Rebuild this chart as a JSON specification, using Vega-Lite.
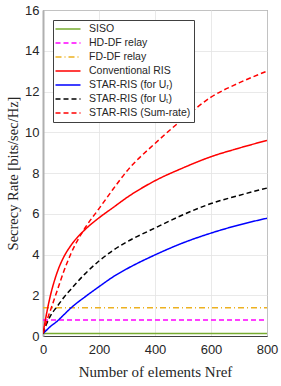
{
  "$schema": "https://vega.github.io/schema/vega-lite/v6.json",
  "width": 224,
  "height": 326,
  "autosize": {"type": "none"},
  "padding": {"left": 43, "top": 10, "right": 14, "bottom": 50},
  "background": "white",
  "config": {
    "view": {"stroke": "#404040", "strokeWidth": 1},
    "axis": {
      "labelFont": "Liberation Sans",
      "labelFontSize": 13,
      "labelColor": "#262626",
      "titleFont": "Liberation Serif",
      "titleFontWeight": "normal",
      "titleColor": "#262626",
      "gridColor": "#e3e3e3",
      "gridWidth": 0.8,
      "ticks": false
    },
    "legend": {
      "labelFont": "Liberation Sans",
      "labelFontSize": 10.5,
      "labelColor": "#262626"
    }
  },
  "data": {
    "values": [
      {"N": 0, "rate": 0.12, "series": "SISO"},
      {"N": 800, "rate": 0.12, "series": "SISO"},
      {"N": 0, "rate": 0.79, "series": "HD-DF relay"},
      {"N": 800, "rate": 0.79, "series": "HD-DF relay"},
      {"N": 0, "rate": 1.39, "series": "FD-DF relay"},
      {"N": 800, "rate": 1.39, "series": "FD-DF relay"},

      {"N": 0, "rate": 0.12, "series": "Conventional RIS"},
      {"N": 10, "rate": 0.9, "series": "Conventional RIS"},
      {"N": 25, "rate": 1.9, "series": "Conventional RIS"},
      {"N": 50, "rate": 3.1, "series": "Conventional RIS"},
      {"N": 75, "rate": 3.9, "series": "Conventional RIS"},
      {"N": 100, "rate": 4.45, "series": "Conventional RIS"},
      {"N": 150, "rate": 5.22, "series": "Conventional RIS"},
      {"N": 200, "rate": 5.8, "series": "Conventional RIS"},
      {"N": 250, "rate": 6.3, "series": "Conventional RIS"},
      {"N": 300, "rate": 6.8, "series": "Conventional RIS"},
      {"N": 400, "rate": 7.62, "series": "Conventional RIS"},
      {"N": 500, "rate": 8.25, "series": "Conventional RIS"},
      {"N": 600, "rate": 8.8, "series": "Conventional RIS"},
      {"N": 700, "rate": 9.22, "series": "Conventional RIS"},
      {"N": 800, "rate": 9.6, "series": "Conventional RIS"},

      {"N": 0, "rate": 0.12, "series": "STAR-RIS (for Uᵣ)"},
      {"N": 10, "rate": 0.25, "series": "STAR-RIS (for Uᵣ)"},
      {"N": 25, "rate": 0.45, "series": "STAR-RIS (for Uᵣ)"},
      {"N": 50, "rate": 0.72, "series": "STAR-RIS (for Uᵣ)"},
      {"N": 75, "rate": 1.05, "series": "STAR-RIS (for Uᵣ)"},
      {"N": 100, "rate": 1.38, "series": "STAR-RIS (for Uᵣ)"},
      {"N": 150, "rate": 1.92, "series": "STAR-RIS (for Uᵣ)"},
      {"N": 200, "rate": 2.42, "series": "STAR-RIS (for Uᵣ)"},
      {"N": 250, "rate": 2.9, "series": "STAR-RIS (for Uᵣ)"},
      {"N": 300, "rate": 3.3, "series": "STAR-RIS (for Uᵣ)"},
      {"N": 400, "rate": 3.98, "series": "STAR-RIS (for Uᵣ)"},
      {"N": 500, "rate": 4.57, "series": "STAR-RIS (for Uᵣ)"},
      {"N": 600, "rate": 5.05, "series": "STAR-RIS (for Uᵣ)"},
      {"N": 700, "rate": 5.45, "series": "STAR-RIS (for Uᵣ)"},
      {"N": 800, "rate": 5.78, "series": "STAR-RIS (for Uᵣ)"},

      {"N": 0, "rate": 0.12, "series": "STAR-RIS (for Uₜ)"},
      {"N": 10, "rate": 0.5, "series": "STAR-RIS (for Uₜ)"},
      {"N": 25, "rate": 0.95, "series": "STAR-RIS (for Uₜ)"},
      {"N": 50, "rate": 1.44, "series": "STAR-RIS (for Uₜ)"},
      {"N": 75, "rate": 1.9, "series": "STAR-RIS (for Uₜ)"},
      {"N": 100, "rate": 2.3, "series": "STAR-RIS (for Uₜ)"},
      {"N": 150, "rate": 3.05, "series": "STAR-RIS (for Uₜ)"},
      {"N": 200, "rate": 3.68, "series": "STAR-RIS (for Uₜ)"},
      {"N": 250, "rate": 4.2, "series": "STAR-RIS (for Uₜ)"},
      {"N": 300, "rate": 4.62, "series": "STAR-RIS (for Uₜ)"},
      {"N": 400, "rate": 5.3, "series": "STAR-RIS (for Uₜ)"},
      {"N": 500, "rate": 5.95, "series": "STAR-RIS (for Uₜ)"},
      {"N": 600, "rate": 6.5, "series": "STAR-RIS (for Uₜ)"},
      {"N": 700, "rate": 6.9, "series": "STAR-RIS (for Uₜ)"},
      {"N": 800, "rate": 7.26, "series": "STAR-RIS (for Uₜ)"},

      {"N": 0, "rate": 0.12, "series": "STAR-RIS (Sum-rate)"},
      {"N": 10, "rate": 0.6, "series": "STAR-RIS (Sum-rate)"},
      {"N": 25, "rate": 1.2, "series": "STAR-RIS (Sum-rate)"},
      {"N": 50, "rate": 2.2, "series": "STAR-RIS (Sum-rate)"},
      {"N": 75, "rate": 3.2, "series": "STAR-RIS (Sum-rate)"},
      {"N": 100, "rate": 4.05, "series": "STAR-RIS (Sum-rate)"},
      {"N": 150, "rate": 5.3, "series": "STAR-RIS (Sum-rate)"},
      {"N": 200, "rate": 6.25, "series": "STAR-RIS (Sum-rate)"},
      {"N": 250, "rate": 7.2, "series": "STAR-RIS (Sum-rate)"},
      {"N": 300, "rate": 8.1, "series": "STAR-RIS (Sum-rate)"},
      {"N": 400, "rate": 9.45, "series": "STAR-RIS (Sum-rate)"},
      {"N": 500, "rate": 10.65, "series": "STAR-RIS (Sum-rate)"},
      {"N": 600, "rate": 11.72, "series": "STAR-RIS (Sum-rate)"},
      {"N": 700, "rate": 12.42, "series": "STAR-RIS (Sum-rate)"},
      {"N": 800, "rate": 13.0, "series": "STAR-RIS (Sum-rate)"}
    ]
  },
  "mark": {"type": "line", "strokeWidth": 1.5, "interpolate": "monotone", "clip": true},
  "encoding": {
    "x": {
      "field": "N", "type": "quantitative",
      "scale": {"domain": [0, 800], "nice": false},
      "axis": {"values": [0, 200, 400, 600, 800], "title": "Number of elements Nref", "titleFontSize": 15, "labelPadding": 7, "titlePadding": 8, "domainColor": "#404040", "labelFlush": false}
    },
    "y": {
      "field": "rate", "type": "quantitative",
      "scale": {"domain": [0, 16], "nice": false},
      "axis": {"values": [0, 2, 4, 6, 8, 10, 12, 14, 16], "title": "Secrecy Rate [bits/sec/Hz]", "titleFontSize": 14.5, "labelPadding": 4, "titlePadding": 4, "domainColor": "#b0b0b0", "domainWidth": 2}
    },
    "color": {
      "field": "series", "type": "nominal",
      "scale": {
        "domain": ["SISO", "HD-DF relay", "FD-DF relay", "Conventional RIS", "STAR-RIS (for Uᵣ)", "STAR-RIS (for Uₜ)", "STAR-RIS (Sum-rate)"],
        "range": ["#77AC30", "#FF00FF", "#EDB120", "#FF0000", "#0000FF", "#000000", "#FF0000"]
      },
      "legend": {
        "title": null, "orient": "none", "legendX": 10, "legendY": 10,
        "symbolType": "M-2.5,0H2.5", "symbolSize": 100, "symbolStrokeWidth": 1.5, "symbolOffset": 6,
        "fillColor": "white", "strokeColor": "#404040", "padding": 3,
        "rowPadding": 2, "labelOffset": 15, "cornerRadius": 0
      }
    },
    "strokeDash": {
      "field": "series", "type": "nominal",
      "scale": {
        "domain": ["SISO", "HD-DF relay", "FD-DF relay", "Conventional RIS", "STAR-RIS (for Uᵣ)", "STAR-RIS (for Uₜ)", "STAR-RIS (Sum-rate)"],
        "range": [[1, 0], [5, 3], [6, 3, 1, 3], [1, 0], [1, 0], [5, 3], [5, 3]]
      },
      "legend": {
        "title": null, "orient": "none", "legendX": 10, "legendY": 10,
        "symbolType": "M-2.5,0H2.5", "symbolSize": 100, "symbolStrokeWidth": 1.5, "symbolOffset": 6,
        "fillColor": "white", "strokeColor": "#404040", "padding": 3,
        "rowPadding": 2, "labelOffset": 15, "cornerRadius": 0
      }
    }
  }
}
